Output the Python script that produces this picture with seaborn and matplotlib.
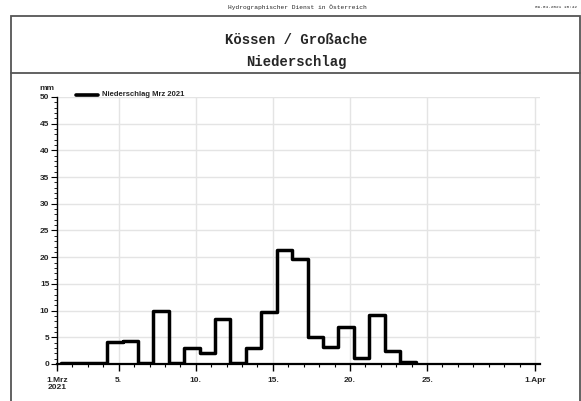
import matplotlib
matplotlib.use("Agg")
import matplotlib.pyplot as plt
import numpy as np
import pandas as pd
import seaborn as sns
from matplotlib.lines import Line2D
from matplotlib.patches import Rectangle

# Daily precipitation totals, Kössen / Großache, March 2021 (mm), Mar 1 .. Mar 23
days = list(range(1, 24))
precip_mm = [0.1, 0.1, 0.1, 4.2, 4.4, 0.1, 10.0, 0.2, 3.0, 2.1, 8.5, 0.2,
             3.0, 9.8, 21.3, 19.7, 5.0, 3.1, 6.9, 1.2, 9.1, 2.4, 0.3]

# daily values cover 06:00 to 06:00 of the following day
day_offset = 0.25

x_tick_pos = [0, 4, 9, 14, 19, 24, 31]
x_tick_labels = ["1.Mrz\n2021", "5.", "10.", "15.", "20.", "25.", "1.Apr"]
y_ticks = [0, 5, 10, 15, 20, 25, 30, 35, 40, 45, 50]

title_line1 = "Kössen / Großache"
title_line2 = "Niederschlag"
header_text = "Hydrographischer Dienst in Österreich"
date_text = "09.04.2021 10:42"
legend_label = "Niederschlag Mrz 2021"

# step series: each day starts at (day - 1) + offset, last value held to the end
x_steps = [d - 1 + day_offset for d in days] + [days[-1] + day_offset]
y_steps = precip_mm + [precip_mm[-1]]
df = pd.DataFrame({"t": x_steps, "mm": y_steps})

sns.set_theme(style="white")
W, H = 581, 401
fig = plt.figure(figsize=(W / 100, H / 100), dpi=100)

# axes placed in pixel coordinates
ax_l, ax_r, ax_t, ax_b = 57, 540, 97, 364
ax = fig.add_axes([ax_l / W, 1 - ax_b / H, (ax_r - ax_l) / W, (ax_b - ax_t) / H])
day_px = (535 - 57) / 31.0
ax.set_xlim(0, (ax_r - ax_l) / day_px)
ax.set_ylim(0, 50)

sns.lineplot(data=df, x="t", y="mm", ax=ax, drawstyle="steps-post",
             color="black", linewidth=2.5, zorder=5, legend=False)

ax.set_xlabel("")
ax.set_ylabel("")

# grid
for v in x_tick_pos[1:]:
    ax.axvline(v, color="#e4e4e4", linewidth=1.0, zorder=0)
for v in y_ticks[1:]:
    ax.axhline(v, color="#e4e4e4", linewidth=1.0, zorder=0)

for s in ["top", "right"]:
    ax.spines[s].set_visible(False)
ax.spines["bottom"].set_linewidth(1.6)
ax.spines["left"].set_linewidth(1.0)
ax.spines["bottom"].set_color("black")
ax.spines["left"].set_color("black")

tick_font = dict(family="Liberation Sans", size=6, weight="bold")
ax.set_xticks(x_tick_pos)
ax.set_xticklabels(x_tick_labels, **tick_font)
ax.set_xticks(np.arange(0, 32), minor=True)
ax.set_yticks(y_ticks)
ax.set_yticklabels([str(v) for v in y_ticks], **tick_font)
ax.set_yticks(np.arange(0, 51), minor=True)
ax.tick_params(axis="x", which="major", direction="out", length=5, width=1.0,
               color="black", pad=4, bottom=True)
ax.tick_params(axis="x", which="minor", direction="out", length=2.5, width=0.8,
               color="black", bottom=True)
ax.tick_params(axis="y", which="major", direction="out", length=4, width=0.8,
               color="black", pad=1.5, left=True)
ax.tick_params(axis="y", which="minor", direction="out", length=2, width=0.6,
               color="black", left=True)
for lab in ax.get_xticklabels():
    lab.set_linespacing(1.15)
    lab.set_horizontalalignment("center")

fig.text(47 / W, 1 - 89 / H, "mm", ha="center", va="center",
         family="Liberation Sans", size=6, weight="bold")

# legend
fig.add_artist(Line2D([76 / W, 98 / W], [1 - 95 / H, 1 - 95 / H],
                      color="black", linewidth=2.6))
fig.text(102 / W, 1 - 95 / H, legend_label, ha="left", va="center",
         family="Liberation Sans", size=5.5, weight="bold")

# page frame and header
fig.add_artist(Rectangle((10.5 / W, -0.05), (579.5 - 10.5) / W, 1 - 16 / H + 0.05,
                         fill=False, edgecolor="#555555", linewidth=1.3))
fig.add_artist(Line2D([10.5 / W, 579.5 / W], [1 - 73 / H, 1 - 73 / H],
                      color="#555555", linewidth=1.3))
fig.text(296 / W, 1 - 40 / H, title_line1, ha="center", va="center",
         family="Liberation Mono", size=10, weight="bold")
fig.text(296 / W, 1 - 62 / H, title_line2, ha="center", va="center",
         family="Liberation Mono", size=10, weight="bold")
fig.text(297 / W, 1 - 7 / H, header_text, ha="center", va="center",
         family="Liberation Mono", size=4.5)
fig.text(577 / W, 1 - 7 / H, date_text, ha="right", va="center",
         family="Liberation Mono", size=3.2)

fig.savefig("out.png", dpi=100)
